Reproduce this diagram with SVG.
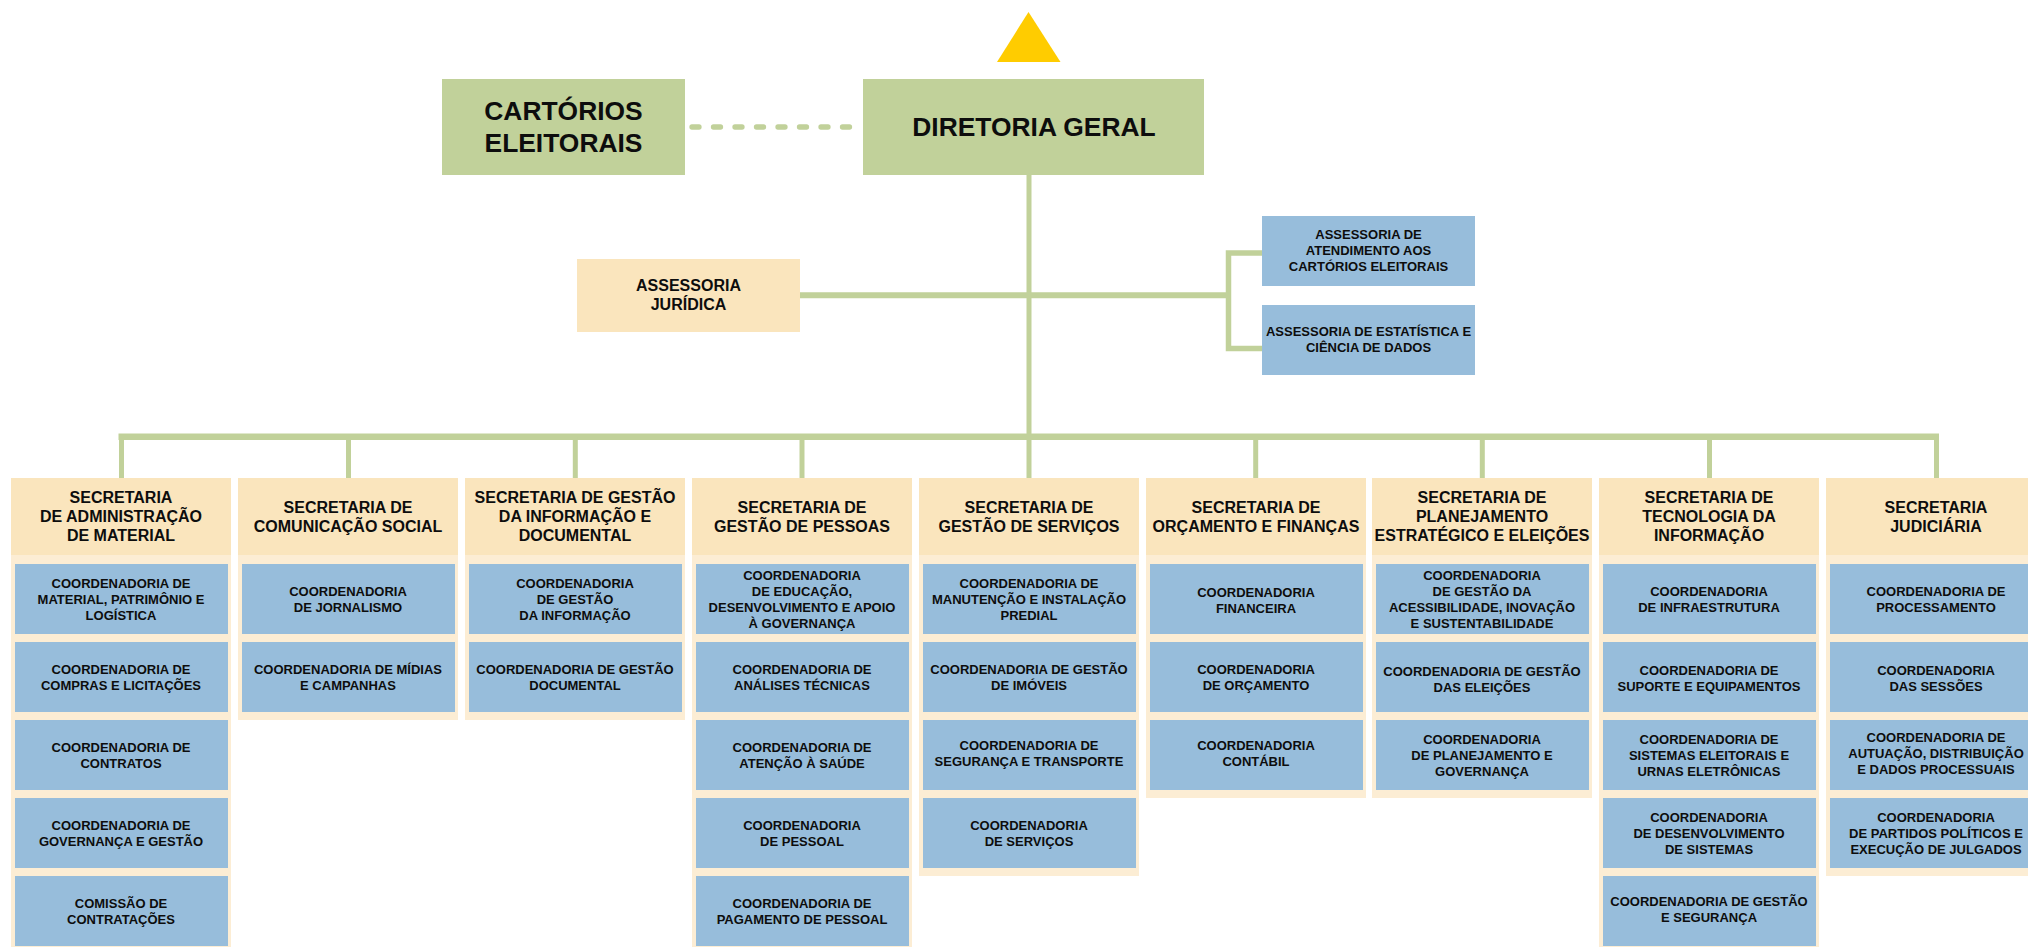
<svg xmlns="http://www.w3.org/2000/svg" width="2028" height="947" viewBox="0 0 2028 947">
<style>
.grn{fill:#C1D19A}
.hdr{fill:#FAE5BD}
.bdy{fill:#FCEDD4}
.blu{fill:#97BDDB}
.ln{stroke:#C1D19A;fill:none}
text{font-family:"Liberation Sans",Arial,sans-serif;font-weight:bold;fill:#0d0d0d;text-anchor:middle}
.t13{font-size:13px}
.t16{font-size:16px}
.t26{font-size:26.4px}
</style>
<rect width="2028" height="947" fill="#ffffff"/>
<g id="connectors">
<line class="ln" x1="692" y1="127" x2="863" y2="127" stroke-width="5.3" stroke-dasharray="7 14.5" stroke-linecap="round"/>
<line class="ln" x1="1029" y1="175" x2="1029" y2="437" stroke-width="5"/>
<line class="ln" x1="800" y1="295.3" x2="1231" y2="295.3" stroke-width="6"/>
<path class="ln" d="M1262,253 H1228.5 V348.5 H1262" stroke-width="5.5"/>
<line class="ln" x1="118.5" y1="436.7" x2="1939" y2="436.7" stroke-width="6.5"/>
<g class="ln" stroke-width="5">
<line x1="121.5" y1="437" x2="121.5" y2="478"/>
<line x1="348.5" y1="437" x2="348.5" y2="478"/>
<line x1="575.3" y1="437" x2="575.3" y2="478"/>
<line x1="802" y1="437" x2="802" y2="478"/>
<line x1="1029" y1="437" x2="1029" y2="478"/>
<line x1="1255.7" y1="437" x2="1255.7" y2="478"/>
<line x1="1482.3" y1="437" x2="1482.3" y2="478"/>
<line x1="1709.5" y1="437" x2="1709.5" y2="478"/>
<line x1="1936.5" y1="437" x2="1936.5" y2="478"/>
</g>
</g>
<g id="triangle"><polygon points="997,62 1028.5,12 1060.5,62" fill="#FFCC00"/></g>
<g id="cartorios">
<rect class="grn" x="442" y="79" width="243" height="96"/>
<text class="t26" x="563.5" y="120.3"><tspan x="563.5">CARTÓRIOS</tspan><tspan x="563.5" dy="31.7">ELEITORAIS</tspan></text>
</g>
<g id="diretoria">
<rect class="grn" x="863" y="79" width="341" height="96"/>
<text class="t26" x="1034" y="136.4">DIRETORIA GERAL</text>
</g>
<g id="juridica">
<rect class="hdr" x="577" y="259" width="223" height="73"/>
<text class="t16" x="688.5" y="291"><tspan x="688.5">ASSESSORIA</tspan><tspan x="688.5" dy="18.7">JURÍDICA</tspan></text>
</g>
<g id="atendimento">
<rect class="blu" x="1262" y="216" width="213" height="70"/>
<text class="t13" x="1368.5" y="239.4"><tspan x="1368.5">ASSESSORIA DE</tspan><tspan x="1368.5" dy="16">ATENDIMENTO AOS</tspan><tspan x="1368.5" dy="16">CARTÓRIOS ELEITORAIS</tspan></text>
</g>
<g id="estatistica">
<rect class="blu" x="1262" y="305" width="213" height="70"/>
<text class="t13" x="1368.5" y="336.4"><tspan x="1368.5">ASSESSORIA DE ESTATÍSTICA E</tspan><tspan x="1368.5" dy="16">CIÊNCIA DE DADOS</tspan></text>
</g>

<g id="sec-administracao">
<rect class="bdy" x="11" y="478" width="220" height="469"/>
<rect class="hdr" x="11" y="478" width="220" height="77"/>
<text class="t16" x="121" y="503"><tspan x="121">SECRETARIA</tspan><tspan x="121" dy="19.2">DE ADMINISTRAÇÃO</tspan><tspan x="121" dy="19.2">DE MATERIAL</tspan></text>
<rect class="blu" x="15" y="564" width="213" height="70"/>
<text class="t13" x="121" y="587.7"><tspan x="121">COORDENADORIA DE</tspan><tspan x="121" dy="16">MATERIAL, PATRIMÔNIO E</tspan><tspan x="121" dy="16">LOGÍSTICA</tspan></text>
<rect class="blu" x="15" y="642" width="213" height="70"/>
<text class="t13" x="121" y="673.7"><tspan x="121">COORDENADORIA DE</tspan><tspan x="121" dy="16">COMPRAS E LICITAÇÕES</tspan></text>
<rect class="blu" x="15" y="720" width="213" height="70"/>
<text class="t13" x="121" y="751.7"><tspan x="121">COORDENADORIA DE</tspan><tspan x="121" dy="16">CONTRATOS</tspan></text>
<rect class="blu" x="15" y="798" width="213" height="70"/>
<text class="t13" x="121" y="829.7"><tspan x="121">COORDENADORIA DE</tspan><tspan x="121" dy="16">GOVERNANÇA E GESTÃO</tspan></text>
<rect class="blu" x="15" y="876" width="213" height="70"/>
<text class="t13" x="121" y="907.7"><tspan x="121">COMISSÃO DE</tspan><tspan x="121" dy="16">CONTRATAÇÕES</tspan></text>
</g>

<g id="sec-comunicacao">
<rect class="bdy" x="238" y="478" width="220" height="242"/>
<rect class="hdr" x="238" y="478" width="220" height="77"/>
<text class="t16" x="348" y="512.6"><tspan x="348">SECRETARIA DE</tspan><tspan x="348" dy="19.2">COMUNICAÇÃO SOCIAL</tspan></text>
<rect class="blu" x="242" y="564" width="213" height="70"/>
<text class="t13" x="348" y="595.7"><tspan x="348">COORDENADORIA</tspan><tspan x="348" dy="16">DE JORNALISMO</tspan></text>
<rect class="blu" x="242" y="642" width="213" height="70"/>
<text class="t13" x="348" y="673.7"><tspan x="348">COORDENADORIA DE MÍDIAS</tspan><tspan x="348" dy="16">E CAMPANHAS</tspan></text>
</g>

<g id="sec-informacao">
<rect class="bdy" x="465" y="478" width="220" height="242"/>
<rect class="hdr" x="465" y="478" width="220" height="77"/>
<text class="t16" x="575" y="503"><tspan x="575">SECRETARIA DE GESTÃO</tspan><tspan x="575" dy="19.2">DA INFORMAÇÃO E</tspan><tspan x="575" dy="19.2">DOCUMENTAL</tspan></text>
<rect class="blu" x="469" y="564" width="213" height="70"/>
<text class="t13" x="575" y="587.7"><tspan x="575">COORDENADORIA</tspan><tspan x="575" dy="16">DE GESTÃO</tspan><tspan x="575" dy="16">DA INFORMAÇÃO</tspan></text>
<rect class="blu" x="469" y="642" width="213" height="70"/>
<text class="t13" x="575" y="673.7"><tspan x="575">COORDENADORIA DE GESTÃO</tspan><tspan x="575" dy="16">DOCUMENTAL</tspan></text>
</g>

<g id="sec-pessoas">
<rect class="bdy" x="692" y="478" width="220" height="469"/>
<rect class="hdr" x="692" y="478" width="220" height="77"/>
<text class="t16" x="802" y="512.6"><tspan x="802">SECRETARIA DE</tspan><tspan x="802" dy="19.2">GESTÃO DE PESSOAS</tspan></text>
<rect class="blu" x="696" y="564" width="213" height="70"/>
<text class="t13" x="802" y="579.7"><tspan x="802">COORDENADORIA</tspan><tspan x="802" dy="16">DE EDUCAÇÃO,</tspan><tspan x="802" dy="16">DESENVOLVIMENTO E APOIO</tspan><tspan x="802" dy="16">À GOVERNANÇA</tspan></text>
<rect class="blu" x="696" y="642" width="213" height="70"/>
<text class="t13" x="802" y="673.7"><tspan x="802">COORDENADORIA DE</tspan><tspan x="802" dy="16">ANÁLISES TÉCNICAS</tspan></text>
<rect class="blu" x="696" y="720" width="213" height="70"/>
<text class="t13" x="802" y="751.7"><tspan x="802">COORDENADORIA DE</tspan><tspan x="802" dy="16">ATENÇÃO À SAÚDE</tspan></text>
<rect class="blu" x="696" y="798" width="213" height="70"/>
<text class="t13" x="802" y="829.7"><tspan x="802">COORDENADORIA</tspan><tspan x="802" dy="16">DE PESSOAL</tspan></text>
<rect class="blu" x="696" y="876" width="213" height="70"/>
<text class="t13" x="802" y="907.7"><tspan x="802">COORDENADORIA DE</tspan><tspan x="802" dy="16">PAGAMENTO DE PESSOAL</tspan></text>
</g>

<g id="sec-servicos">
<rect class="bdy" x="919" y="478" width="220" height="398"/>
<rect class="hdr" x="919" y="478" width="220" height="77"/>
<text class="t16" x="1029" y="512.6"><tspan x="1029">SECRETARIA DE</tspan><tspan x="1029" dy="19.2">GESTÃO DE SERVIÇOS</tspan></text>
<rect class="blu" x="923" y="564" width="213" height="70"/>
<text class="t13" x="1029" y="587.7"><tspan x="1029">COORDENADORIA DE</tspan><tspan x="1029" dy="16">MANUTENÇÃO E INSTALAÇÃO</tspan><tspan x="1029" dy="16">PREDIAL</tspan></text>
<rect class="blu" x="923" y="642" width="213" height="70"/>
<text class="t13" x="1029" y="673.7"><tspan x="1029">COORDENADORIA DE GESTÃO</tspan><tspan x="1029" dy="16">DE IMÓVEIS</tspan></text>
<rect class="blu" x="923" y="720" width="213" height="70"/>
<text class="t13" x="1029" y="749.7"><tspan x="1029">COORDENADORIA DE</tspan><tspan x="1029" dy="16">SEGURANÇA E TRANSPORTE</tspan></text>
<rect class="blu" x="923" y="798" width="213" height="70"/>
<text class="t13" x="1029" y="829.7"><tspan x="1029">COORDENADORIA</tspan><tspan x="1029" dy="16">DE SERVIÇOS</tspan></text>
</g>

<g id="sec-orcamento">
<rect class="bdy" x="1146" y="478" width="220" height="320"/>
<rect class="hdr" x="1146" y="478" width="220" height="77"/>
<text class="t16" x="1256" y="512.6"><tspan x="1256">SECRETARIA DE</tspan><tspan x="1256" dy="19.2">ORÇAMENTO E FINANÇAS</tspan></text>
<rect class="blu" x="1150" y="564" width="213" height="70"/>
<text class="t13" x="1256" y="596.7"><tspan x="1256">COORDENADORIA</tspan><tspan x="1256" dy="16">FINANCEIRA</tspan></text>
<rect class="blu" x="1150" y="642" width="213" height="70"/>
<text class="t13" x="1256" y="673.7"><tspan x="1256">COORDENADORIA</tspan><tspan x="1256" dy="16">DE ORÇAMENTO</tspan></text>
<rect class="blu" x="1150" y="720" width="213" height="70"/>
<text class="t13" x="1256" y="749.7"><tspan x="1256">COORDENADORIA</tspan><tspan x="1256" dy="16">CONTÁBIL</tspan></text>
</g>

<g id="sec-planejamento">
<rect class="bdy" x="1372" y="478" width="220" height="320"/>
<rect class="hdr" x="1372" y="478" width="220" height="77"/>
<text class="t16" x="1482" y="503"><tspan x="1482">SECRETARIA DE</tspan><tspan x="1482" dy="19.2">PLANEJAMENTO</tspan><tspan x="1482" dy="19.2">ESTRATÉGICO E ELEIÇÕES</tspan></text>
<rect class="blu" x="1376" y="564" width="213" height="70"/>
<text class="t13" x="1482" y="579.7"><tspan x="1482">COORDENADORIA</tspan><tspan x="1482" dy="16">DE GESTÃO DA</tspan><tspan x="1482" dy="16">ACESSIBILIDADE, INOVAÇÃO</tspan><tspan x="1482" dy="16">E SUSTENTABILIDADE</tspan></text>
<rect class="blu" x="1376" y="642" width="213" height="70"/>
<text class="t13" x="1482" y="675.7"><tspan x="1482">COORDENADORIA DE GESTÃO</tspan><tspan x="1482" dy="16">DAS ELEIÇÕES</tspan></text>
<rect class="blu" x="1376" y="720" width="213" height="70"/>
<text class="t13" x="1482" y="743.7"><tspan x="1482">COORDENADORIA</tspan><tspan x="1482" dy="16">DE PLANEJAMENTO E</tspan><tspan x="1482" dy="16">GOVERNANÇA</tspan></text>
</g>

<g id="sec-tecnologia">
<rect class="bdy" x="1599" y="478" width="220" height="469"/>
<rect class="hdr" x="1599" y="478" width="220" height="77"/>
<text class="t16" x="1709" y="503"><tspan x="1709">SECRETARIA DE</tspan><tspan x="1709" dy="19.2">TECNOLOGIA DA</tspan><tspan x="1709" dy="19.2">INFORMAÇÃO</tspan></text>
<rect class="blu" x="1603" y="564" width="213" height="70"/>
<text class="t13" x="1709" y="595.7"><tspan x="1709">COORDENADORIA</tspan><tspan x="1709" dy="16">DE INFRAESTRUTURA</tspan></text>
<rect class="blu" x="1603" y="642" width="213" height="70"/>
<text class="t13" x="1709" y="674.7"><tspan x="1709">COORDENADORIA DE</tspan><tspan x="1709" dy="16">SUPORTE E EQUIPAMENTOS</tspan></text>
<rect class="blu" x="1603" y="720" width="213" height="70"/>
<text class="t13" x="1709" y="743.7"><tspan x="1709">COORDENADORIA DE</tspan><tspan x="1709" dy="16">SISTEMAS ELEITORAIS E</tspan><tspan x="1709" dy="16">URNAS ELETRÔNICAS</tspan></text>
<rect class="blu" x="1603" y="798" width="213" height="70"/>
<text class="t13" x="1709" y="821.7"><tspan x="1709">COORDENADORIA</tspan><tspan x="1709" dy="16">DE DESENVOLVIMENTO</tspan><tspan x="1709" dy="16">DE SISTEMAS</tspan></text>
<rect class="blu" x="1603" y="876" width="213" height="70"/>
<text class="t13" x="1709" y="905.7"><tspan x="1709">COORDENADORIA DE GESTÃO</tspan><tspan x="1709" dy="16">E SEGURANÇA</tspan></text>
</g>

<g id="sec-judiciaria">
<rect class="bdy" x="1826" y="478" width="220" height="398"/>
<rect class="hdr" x="1826" y="478" width="220" height="77"/>
<text class="t16" x="1936" y="512.6"><tspan x="1936">SECRETARIA</tspan><tspan x="1936" dy="19.2">JUDICIÁRIA</tspan></text>
<rect class="blu" x="1830" y="564" width="213" height="70"/>
<text class="t13" x="1936" y="595.7"><tspan x="1936">COORDENADORIA DE</tspan><tspan x="1936" dy="16">PROCESSAMENTO</tspan></text>
<rect class="blu" x="1830" y="642" width="213" height="70"/>
<text class="t13" x="1936" y="674.7"><tspan x="1936">COORDENADORIA</tspan><tspan x="1936" dy="16">DAS SESSÕES</tspan></text>
<rect class="blu" x="1830" y="720" width="213" height="70"/>
<text class="t13" x="1936" y="741.7"><tspan x="1936">COORDENADORIA DE</tspan><tspan x="1936" dy="16">AUTUAÇÃO, DISTRIBUIÇÃO</tspan><tspan x="1936" dy="16">E DADOS PROCESSUAIS</tspan></text>
<rect class="blu" x="1830" y="798" width="213" height="70"/>
<text class="t13" x="1936" y="821.7"><tspan x="1936">COORDENADORIA</tspan><tspan x="1936" dy="16">DE PARTIDOS POLÍTICOS E</tspan><tspan x="1936" dy="16">EXECUÇÃO DE JULGADOS</tspan></text>
</g>
</svg>
